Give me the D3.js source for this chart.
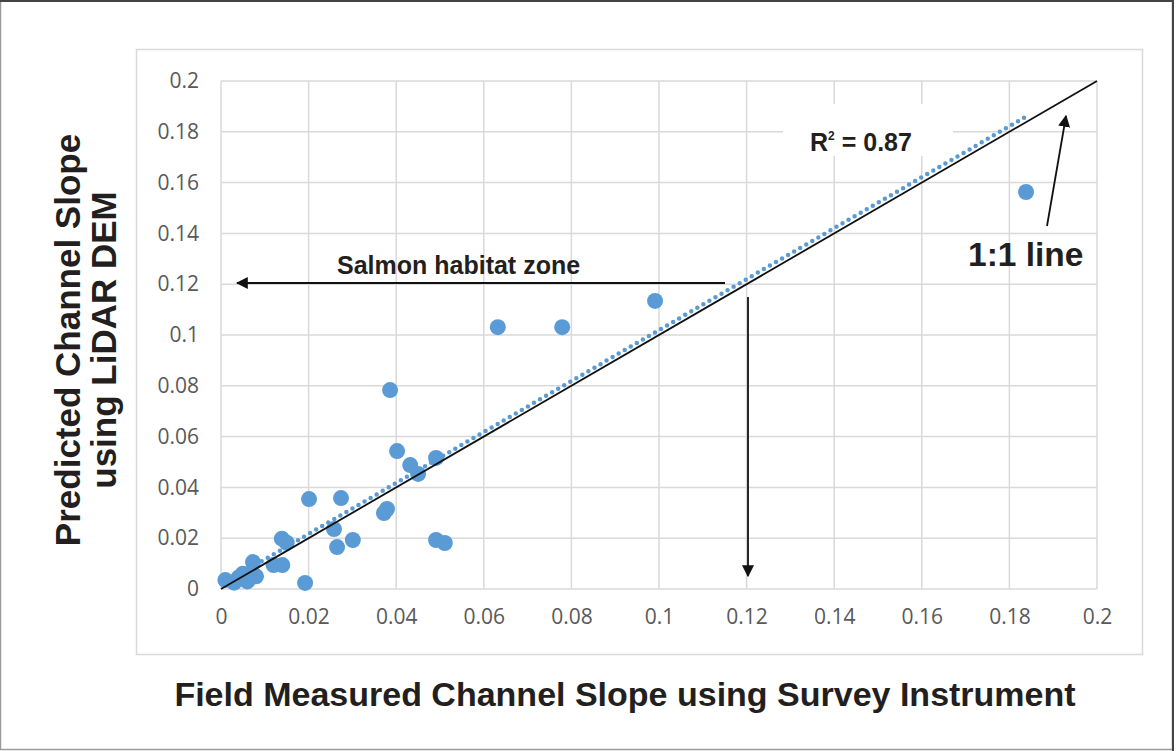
<!DOCTYPE html>
<head>
<meta charset="utf-8">
<title>Channel slope</title>
<script src="https://d3js.org/d3.v7.min.js"></script>
<style>
body { margin: 0; background: #fff; }
.tick text { font-family: "Open Sans", sans-serif; font-size: 21px; fill: #595959; }
.lbl { font-family: "Liberation Sans", Arial, sans-serif; font-weight: bold; fill: #231f20; }
</style>
</head>
<body>
<script>
// field measured slope (x) vs LiDAR predicted slope (y)
var fieldSlope = [0.001, 0.003, 0.004, 0.005, 0.006, 0.007, 0.008, 0.0073, 0.012, 0.014, 0.0139, 0.015,
  0.0192, 0.0201, 0.0258, 0.0265, 0.0274, 0.0301, 0.0372, 0.0379, 0.0386, 0.0402, 0.0432, 0.045,
  0.0491, 0.0491, 0.0511, 0.0632, 0.0779, 0.0991, 0.1838];
var lidarSlope = [0.0035, 0.0025, 0.0045, 0.006, 0.003, 0.0065, 0.005, 0.0106, 0.0094, 0.0094, 0.0198, 0.0182,
  0.0024, 0.0354, 0.0236, 0.0165, 0.0358, 0.0193, 0.0299, 0.0315, 0.0783, 0.0543, 0.0488, 0.0453,
  0.0516, 0.0193, 0.0181, 0.1031, 0.1031, 0.1134, 0.1563];

var ticks = [0, 0.02, 0.04, 0.06, 0.08, 0.1, 0.12, 0.14, 0.16, 0.18, 0.2];
var oneToOne = [[0, 0], [0.2, 0.2]];
var trendLine = [[0.001, 0.0026], [0.184, 0.1862]];
var rSquared = "0.87";

var W = 1176, H = 751;
var svg = d3.select("body").append("svg").attr("width", W).attr("height", H);

// outer frame
svg.append("rect").attr("x", 0.5).attr("y", 0.5).attr("width", 1172).attr("height", 749)
  .attr("fill", "#fff").attr("stroke", "#9a9a9a").attr("stroke-width", 1.5);
svg.append("line").attr("x1", 0).attr("x2", 1174).attr("y1", 1).attr("y2", 1)
  .attr("stroke", "#444").attr("stroke-width", 2);
svg.append("line").attr("x1", 1173).attr("x2", 1173).attr("y1", 0).attr("y2", 751)
  .attr("stroke", "#444").attr("stroke-width", 2);

// chart area border
svg.append("rect").attr("x", 136.5).attr("y", 49.5).attr("width", 1006).attr("height", 605)
  .attr("fill", "none").attr("stroke", "#d9d9d9").attr("stroke-width", 1.5);

var x = d3.scaleLinear().domain([0, 0.2]).range([221, 1097]);
var y = d3.scaleLinear().domain([0, 0.2]).range([589, 81]);
var fmt = function(d) { return d === 0 ? "0" : String(+d.toFixed(2)); };

// gridlines
svg.append("g").selectAll("line").data(ticks).join("line")
  .attr("x1", d => x(d)).attr("x2", d => x(d)).attr("y1", y(0)).attr("y2", y(0.2))
  .attr("stroke", "#d9d9d9").attr("stroke-width", 1.5);
svg.append("g").selectAll("line").data(ticks).join("line")
  .attr("x1", x(0)).attr("x2", x(0.2)).attr("y1", d => y(d)).attr("y2", d => y(d))
  .attr("stroke", "#d9d9d9").attr("stroke-width", 1.5);

// axes (labels only)
var xAxis = svg.append("g").attr("transform", "translate(0," + y(0) + ")")
  .call(d3.axisBottom(x).tickValues(ticks).tickFormat(fmt).tickSize(0).tickPadding(20));
var yAxis = svg.append("g").attr("transform", "translate(" + x(0) + ",0)")
  .call(d3.axisLeft(y).tickValues(ticks).tickFormat(fmt).tickSize(0).tickPadding(22));
xAxis.select(".domain").remove();
yAxis.select(".domain").remove();

// white box behind R² label
svg.append("rect").attr("x", 783).attr("y", 104).attr("width", 170).attr("height", 52).attr("fill", "#fff");

var line = d3.line().x(d => x(d[0])).y(d => y(d[1]));

// points
svg.append("g").selectAll("circle").data(fieldSlope).join("circle")
  .attr("cx", d => x(d)).attr("cy", (d, i) => y(lidarSlope[i])).attr("r", 8)
  .attr("fill", "#5b9bd5");

// trendline (dotted)
svg.append("path").datum(trendLine).attr("d", line)
  .attr("fill", "none").attr("stroke", "#5b9bd5").attr("stroke-width", 4.5)
  .attr("stroke-dasharray", "0 7").attr("stroke-linecap", "round");

// 1:1 line
svg.append("path").datum(oneToOne).attr("d", line)
  .attr("fill", "none").attr("stroke", "#111").attr("stroke-width", 1.8);

// arrow markers
svg.append("defs").append("marker").attr("id", "ah")
  .attr("viewBox", "0 0 10 10").attr("refX", 9).attr("refY", 5)
  .attr("markerWidth", 12).attr("markerHeight", 12).attr("markerUnits", "userSpaceOnUse")
  .attr("orient", "auto")
  .append("path").attr("d", "M0,0 L10,5 L0,10 Z").attr("fill", "#111");

var arrows = [[725, 283, 237, 283], [748, 297, 748, 576], [1047, 226, 1066, 116]];
svg.append("g").selectAll("line").data(arrows).join("line")
  .attr("x1", d => d[0]).attr("y1", d => d[1]).attr("x2", d => d[2]).attr("y2", d => d[3])
  .attr("stroke", "#111").attr("stroke-width", 1.8).attr("marker-end", "url(#ah)");

// annotations
svg.append("text").attr("class", "lbl").attr("x", 337).attr("y", 274)
  .attr("font-size", 25).text("Salmon habitat zone");
var r2 = svg.append("text").attr("class", "lbl").attr("x", 810).attr("y", 151).attr("font-size", 25);
r2.append("tspan").text("R");
r2.append("tspan").attr("font-size", 12).attr("dy", -11).text("2");
r2.append("tspan").attr("dy", 11).text(" = " + rSquared);
svg.append("text").attr("class", "lbl").attr("x", 968).attr("y", 266)
  .attr("font-size", 33.5).text("1:1 line");

// axis titles
svg.append("text").attr("class", "lbl").attr("x", 625).attr("y", 706)
  .attr("text-anchor", "middle").attr("font-size", 34)
  .text("Field Measured Channel Slope using Survey Instrument");
var yt = svg.append("text").attr("class", "lbl").attr("text-anchor", "middle").attr("font-size", 35)
  .attr("transform", "translate(80,340) rotate(-90)");
yt.append("tspan").attr("x", 0).attr("y", 0).text("Predicted Channel Slope");
yt.append("tspan").attr("x", 0).attr("y", 36).text("using LiDAR DEM");
</script>
</body>
